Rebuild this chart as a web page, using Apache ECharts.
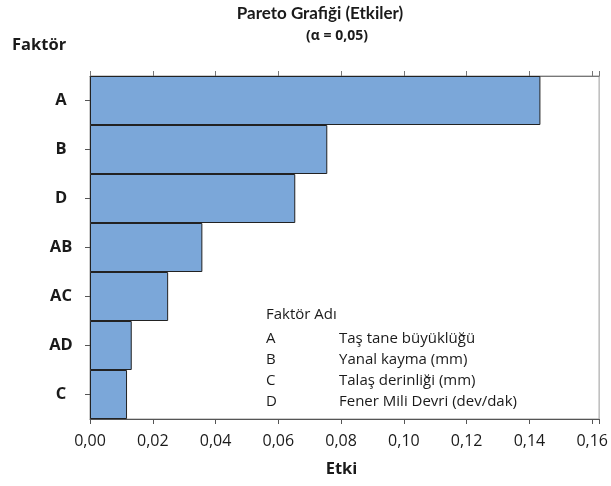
<!DOCTYPE html>
<html>
<head>
<meta charset="utf-8">
<script src="https://cdn.jsdelivr.net/npm/echarts@6/dist/echarts.min.js"></script>
<style>html,body{margin:0;padding:0;background:#fff}#c{width:611px;height:486px}</style>
</head>
<body>
<div id="c"></div>
<script>
const categories = ['A', 'B', 'D', 'AB', 'AC', 'AD', 'C'];
const effects = [0.1435, 0.0756, 0.0654, 0.0358, 0.0249, 0.0133, 0.0118];
const legendCodes = ['A', 'B', 'C', 'D'];
const legendNames = ['Taş tane büyüklüğü', 'Yanal kayma (mm)', 'Talaş derinliği (mm)', 'Fener Mili Devri (dev/dak)'];

const FONT = '"Open Sans", "Noto Sans", sans-serif';
const TFONT = 'Lato, "Open Sans", sans-serif';
const INK = '#1a1a1a';
const chart = echarts.init(document.getElementById('c'));

function txt(x, y, text, font, align) {
  return {type: 'text', x: x, y: y, silent: true,
    style: {text: text, font: font, fill: INK, align: align || 'left', verticalAlign: 'middle'}};
}

const graphics = [
  txt(320, 14, 'Pareto Grafiği (Etkiler)', 'bold 17px ' + TFONT, 'center'),
  txt(337, 36, '(α = 0,05)', 'bold 14px ' + FONT, 'center'),
  txt(12, 45, 'Faktör', 'bold 16.5px ' + FONT),
  txt(266, 315, 'Faktör Adı', '15px ' + FONT)
];
const rowY = [339, 360, 381, 402];
legendCodes.forEach((c, i) => {
  graphics.push(txt(266, rowY[i], c, '15px ' + FONT));
  graphics.push(txt(339, rowY[i], legendNames[i], '15px ' + FONT));
});

const fmt = v => {
  const k = Math.round(v / 0.02);
  if (Math.abs(v - k * 0.02) > 1e-6) return '';
  return v.toFixed(2).replace('.', ',');
};

chart.setOption({
  animation: false,
  textStyle: {fontFamily: FONT},
  grid: {left: 90, right: 9, top: 76, bottom: 67, show: true, borderColor: '#9a9a9a', borderWidth: 1},
  graphic: graphics,
  xAxis: [{
    type: 'value', min: 0, max: 0.1622, interval: 0.02,
    name: 'Etki', nameLocation: 'middle', nameGap: 42,
    nameTextStyle: {fontSize: 16.5, fontWeight: 'bold', color: INK, padding: [0, 0, 0, -6]},
    axisLine: {show: true, lineStyle: {color: '#555'}},
    axisTick: {show: true, length: 5, lineStyle: {color: '#555'}},
    axisLabel: {formatter: fmt, fontSize: 16, color: INK, margin: 14, showMaxLabel: true},
    splitLine: {show: false}
  }, {
    type: 'value', position: 'top', min: 0, max: 0.1622, interval: 0.02,
    axisLine: {show: true, lineStyle: {color: '#777'}},
    axisTick: {show: true, length: 5, lineStyle: {color: '#777'}},
    axisLabel: {show: false},
    splitLine: {show: false}
  }],
  yAxis: {
    type: 'category', data: categories, inverse: true,
    axisLine: {show: true, lineStyle: {color: '#555'}},
    axisTick: {show: true, alignWithLabel: true, length: 5, lineStyle: {color: '#555'}},
    axisLabel: {fontSize: 16.5, fontWeight: 'bold', color: INK, align: 'center', margin: 29}
  },
  series: [{
    type: 'bar', data: effects, xAxisIndex: 0, barCategoryGap: '0%',
    itemStyle: {color: '#7ba7d9', borderColor: '#222', borderWidth: 1}
  }]
});
</script>
</body>
</html>
